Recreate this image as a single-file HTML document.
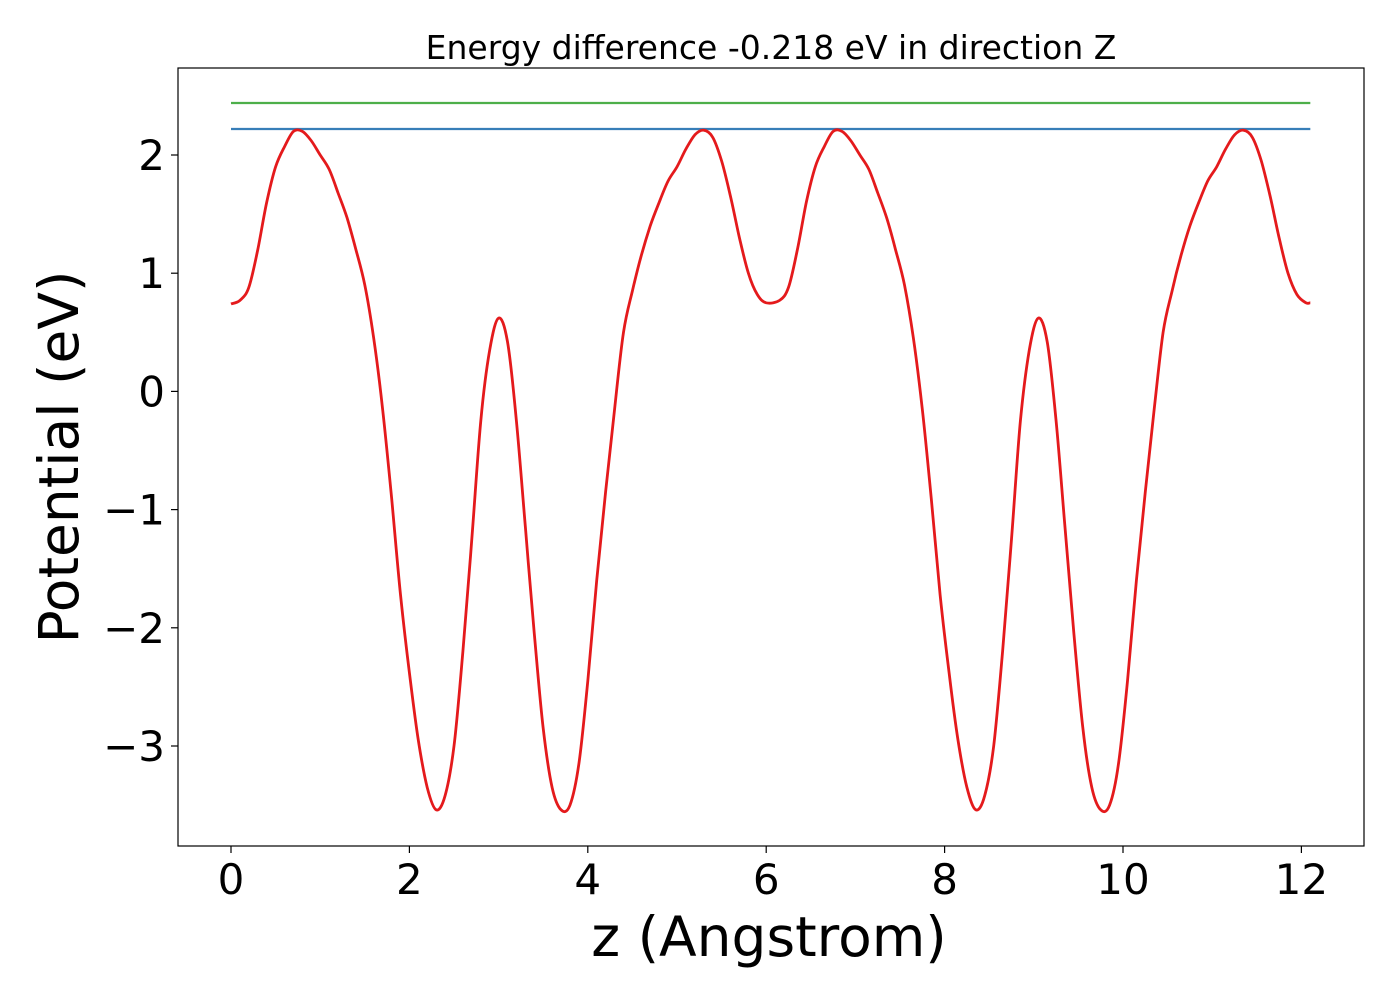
<!DOCTYPE html>
<html><head><meta charset="utf-8"><style>
html,body{margin:0;padding:0;background:#fff;}
svg{display:block;font-family:"DejaVu Sans","Liberation Sans",sans-serif;}
</style></head><body>
<svg id="chart" width="1400" height="1000" viewBox="0 0 1400 1000">
<rect x="0" y="0" width="1400" height="1000" fill="#fff"/>
<text x="771" y="59" font-size="33" text-anchor="middle">Energy difference -0.218 eV in direction Z</text>
<g id="plot"></g>
<rect x="178" y="68" width="1186" height="778" fill="none" stroke="#000" stroke-width="1.2"/>
<text x="769" y="956" font-size="55" text-anchor="middle">z (Angstrom)</text>
<text transform="translate(78,457) rotate(-90)" font-size="55" text-anchor="middle">Potential (eV)</text>
</svg>
<script>
const xTicks = [0, 2, 4, 6, 8, 10, 12];
const yTicks = [2, 1, 0, -1, -2, -3];
const yTickLabels = ["2", "1", "0", "\u22121", "\u22122", "\u22123"];
const upperLevel = 2.44;
const lowerLevel = 2.22;
const levelRange = [0, 12.1];
const period1 = [0.74,0.77,0.88,1.2,1.6,1.9,2.07,2.2,2.2,2.12,2.0,1.88,1.68,1.47,1.2,0.9,0.45,-0.15,-0.9,-1.72,-2.38,-2.95,-3.35,-3.54,-3.42,-3.0,-2.2,-1.25,-0.25,0.35,0.62,0.42,-0.25,-1.15,-2.05,-2.85,-3.35,-3.54,-3.5,-3.15,-2.45,-1.6,-0.85,-0.15,0.5,0.85,1.15,1.4,1.6,1.78,1.9,2.05,2.17,2.21,2.15,1.95,1.65,1.3,1.0,0.82,0.75];
const periodShift = 6.05;
const zStep = 0.1;
const zEnd = 12.1;
const endValue = 0.75;

const X0=231, XS=89.2, Y0=391.4, YS=118.2;
const sx = z => X0 + z*XS;
const sy = v => Y0 - v*YS;
const NS="http://www.w3.org/2000/svg";
const plot=document.getElementById('plot');
function mk(tag, attrs){const e=document.createElementNS(NS,tag);for(const k in attrs)e.setAttribute(k,attrs[k]);return e;}

xTicks.forEach(t=>{
  const l=mk('line',{x1:sx(t),x2:sx(t),y1:846,y2:853,stroke:'#000','stroke-width':1.2});
  
  
  plot.appendChild(l);
  const tx=mk('text',{x:sx(t),y:894,'font-size':42,'text-anchor':'middle'});
  
  
  tx.textContent=String(t);
  plot.appendChild(tx);
});
yTicks.forEach((t,i)=>{
  const l=mk('line',{x1:171,x2:178,y1:sy(t),y2:sy(t),stroke:'#000','stroke-width':1.2});
  
  
  plot.appendChild(l);
  const tx=mk('text',{x:165,y:sy(t)+15,'font-size':42,'text-anchor':'end'});
  
  
  tx.textContent=yTickLabels[i];
  plot.appendChild(tx);
});

const g=mk('line',{x1:sx(levelRange[0]),x2:sx(levelRange[1]),y1:sy(upperLevel),y2:sy(upperLevel),stroke:'#4daf4a','stroke-width':2.2});


plot.appendChild(g);
const b=mk('line',{x1:sx(levelRange[0]),x2:sx(levelRange[1]),y1:sy(lowerLevel),y2:sy(lowerLevel),stroke:'#377eb8','stroke-width':2.2});


plot.appendChild(b);

const pts=[];
period1.forEach((v,i)=>pts.push([i*zStep,v]));
period1.forEach((v,i)=>{ if(i>0) pts.push([periodShift+i*zStep,v]); });
pts.push([zEnd,endValue]);
const P=pts.map(p=>[sx(p[0]),sy(p[1])]);
let d='M'+P[0][0].toFixed(1)+','+P[0][1].toFixed(1);
for(let i=0;i<P.length-1;i++){
  const p0=P[Math.max(0,i-1)],p1=P[i],p2=P[i+1],p3=P[Math.min(P.length-1,i+2)];
  const c1=[p1[0]+(p2[0]-p0[0])/6,p1[1]+(p2[1]-p0[1])/6];
  const c2=[p2[0]-(p3[0]-p1[0])/6,p2[1]-(p3[1]-p1[1])/6];
  d+=' C'+c1[0].toFixed(1)+','+c1[1].toFixed(1)+' '+c2[0].toFixed(1)+','+c2[1].toFixed(1)+' '+p2[0].toFixed(1)+','+p2[1].toFixed(1);
}
const path=mk('path',{d:d,fill:'none',stroke:'#e41a1c','stroke-width':2.8,'stroke-linejoin':'round'});


plot.appendChild(path);
</script>
</body></html>
